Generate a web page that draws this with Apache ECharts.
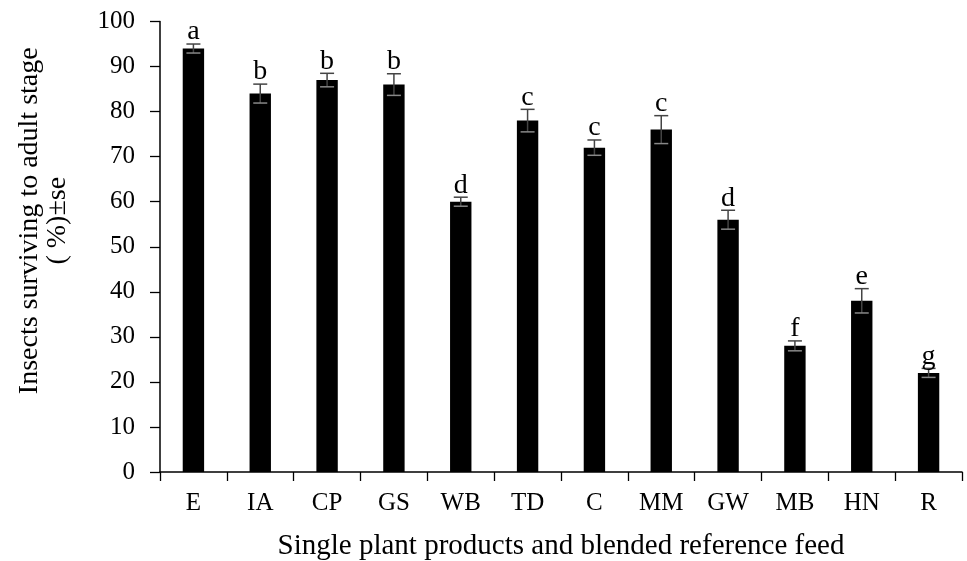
<!DOCTYPE html>
<html><head><meta charset="utf-8">
<script src="https://cdn.jsdelivr.net/npm/echarts@6/dist/echarts.min.js"></script>
<style>html,body{margin:0;padding:0;background:#fff}#c{width:967px;height:561px}</style>
</head><body><div id="c"></div>
<script>
const categories = ['E','IA','CP','GS','WB','TD','C','MM','GW','MB','HN','R'];
const survival = [94, 84, 87, 86, 60, 78, 72, 76, 56, 28, 38, 22];
const se = [1, 2.1, 1.5, 2.4, 1, 2.5, 1.7, 3.1, 2.1, 1.1, 2.7, 1];
const letters = ['a','b','b','b','d','c','c','c','d','f','e','g'];
const yTicks = [0,10,20,30,40,50,60,70,80,90,100];

const font = 'Liberation Serif';
const chart = echarts.init(document.getElementById('c'));
const errData = categories.map((c,i)=>[i, survival[i], se[i]]);
chart.setOption({
  animation:false,
  grid:{left:160,right:5,top:21.5,bottom:89,containLabel:false,outerBoundsMode:'none'},
  xAxis:{type:'category',data:categories,
    axisLine:{lineStyle:{color:'#000',width:1.5}},
    axisTick:{show:true,length:9,lineStyle:{color:'#000',width:1.3}},
    axisLabel:{color:'#000',fontFamily:font,fontSize:25,margin:19},
    name:'Single plant products and blended reference feed',nameLocation:'middle',nameGap:59,
    nameTextStyle:{color:'#000',fontFamily:font,fontSize:29,lineHeight:30}},
  yAxis:{type:'value',min:yTicks[0],max:yTicks[yTicks.length-1],interval:10,
    axisLine:{show:true,lineStyle:{color:'#000',width:1.5}},
    axisTick:{show:true,length:10,lineStyle:{color:'#000',width:1.3}},
    splitLine:{show:false},
    axisLabel:{color:'#000',fontFamily:font,fontSize:25,margin:25},
    name:'Insects surviving to adult stage\n( %)±se',nameLocation:'middle',nameGap:88,
    nameTextStyle:{color:'#000',fontFamily:font,fontSize:28,lineHeight:28,padding:[0,0,0,52]}},
  series:[
    {type:'bar',data:survival,barWidth:'32%',itemStyle:{color:'#000'}},
    {type:'custom',data:errData,z:10,
      renderItem:function(params,api){
        const x=api.value(0), v=api.value(1), e=api.value(2);
        const top=api.coord([x,v+e]), bot=api.coord([x,v-e]);
        const hw=7;
        return {type:'group',children:[
          {type:'line',shape:{x1:top[0],y1:top[1],x2:bot[0],y2:bot[1]},style:{stroke:'#444',lineWidth:1.5}},
          {type:'line',shape:{x1:top[0]-hw,y1:top[1],x2:top[0]+hw,y2:top[1]},style:{stroke:'#444',lineWidth:1.5}},
          {type:'line',shape:{x1:bot[0]-hw,y1:bot[1],x2:bot[0]+hw,y2:bot[1]},style:{stroke:'#888',lineWidth:1.5}},
          {type:'text',x:top[0],y:top[1]+2,style:{text:letters[params.dataIndex],fill:'#000',font:'28px "Liberation Serif"',align:'center',verticalAlign:'bottom'}}
        ]};
      }}
  ]
});
</script></body></html>
